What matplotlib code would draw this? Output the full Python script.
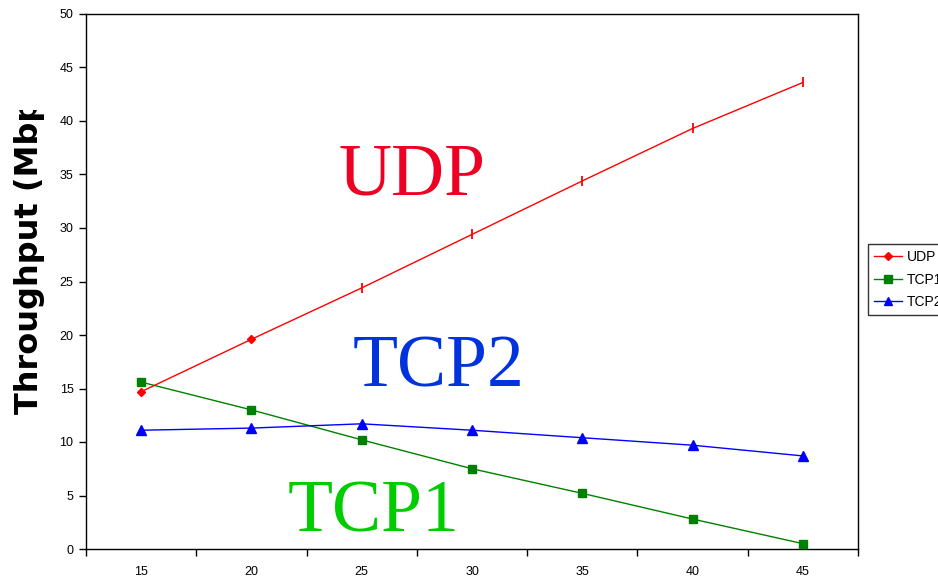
import matplotlib
matplotlib.use("Agg")
import matplotlib.pyplot as plt
from matplotlib.transforms import Bbox

# Offered load (category axis) and measured throughput per flow
loads = ["15", "20", "25", "30", "35", "40", "45"]
udp = [14.7, 19.6, 24.4, 29.4, 34.4, 39.3, 43.6]
tcp1 = [15.6, 13.0, 10.2, 7.5, 5.2, 2.8, 0.5]
tcp2 = [11.1, 11.3, 11.7, 11.1, 10.4, 9.7, 8.7]
y_ticks = [0, 5, 10, 15, 20, 25, 30, 35, 40, 45, 50]

W, H = 938, 578
fig = plt.figure(figsize=(W / 100, H / 100), dpi=100)
plt.rcParams["font.family"] = ["Liberation Sans", "DejaVu Sans"]

left, right, top, bottom = 86, 858, 14, 549
ax = fig.add_axes([left / W, 1 - bottom / H, (right - left) / W, (bottom - top) / H])

x = list(range(len(loads)))

# UDP: diamonds on the first two points, short vertical bars on the rest
ax.plot(x, udp, color="#ff0000", lw=1.0, zorder=3)
ax.plot(x[:2], udp[:2], ls="none", marker="D", ms=4.5, color="#ff0000", zorder=4)
ax.plot(x[2:], udp[2:], ls="none", marker="|", ms=7, mew=1.3, color="#ff0000", zorder=4)
ax.plot(x, tcp1, color="#008000", lw=1.0, marker="s", ms=6, zorder=3)
ax.plot(x, tcp2, color="#0000ff", lw=1.0, marker="^", ms=6.5, zorder=3)

ax.set_xlim(-0.5, len(loads) - 0.5)
ax.set_ylim(0, 50)
ax.set_yticks(y_ticks)
ax.set_yticklabels([str(v) for v in y_ticks], fontsize=9)
ax.set_xticks(x)
ax.set_xticklabels(loads, fontsize=9)
ax.set_xticks([i - 0.5 for i in range(len(loads) + 1)], minor=True)
ax.tick_params(axis="x", which="major", length=0, pad=12)
ax.tick_params(axis="x", which="minor", length=5, width=1, color="black")
ax.tick_params(axis="y", length=5, width=1, pad=4)
for s in ax.spines.values():
    s.set_color("black")
    s.set_linewidth(1.0)

# Big in-plot flow labels
big = dict(fontsize=53, family="Liberation Serif", va="baseline", ha="left")
ax.text(1.785, 33.1, "UDP", color="#ee0022", **big)
ax.text(1.92, 15.2, "TCP2", color="#0033dd", **big)
ax.text(1.33, 1.6, "TCP1", color="#00cc00", **big)

# Y-axis title, cut off at its upper end
ylab = fig.text(30 / W, 1 - 414 / H, "Throughput (Mbps)", rotation=90, fontsize=23,
                family="DejaVu Sans", fontweight="bold", ha="center", va="bottom")
ylab.set_clip_box(Bbox.from_extents(0, 0, 60, H - 110))
ylab.set_clip_on(True)

# Legend box
handles = [
    plt.Line2D([], [], color="#ff0000", lw=1.0, marker="D", ms=4.5),
    plt.Line2D([], [], color="#008000", lw=1.0, marker="s", ms=5.5),
    plt.Line2D([], [], color="#0000ff", lw=1.0, marker="^", ms=6),
]
leg = fig.legend(handles, ["UDP", "TCP1", "TCP2"], loc="upper left",
                 bbox_to_anchor=(868 / W, 1 - 244 / H), fontsize=10,
                 frameon=True, fancybox=False, edgecolor="black",
                 handlelength=2.0, handletextpad=0.35, borderpad=0.45,
                 labelspacing=0.6, borderaxespad=0)
leg.get_frame().set_linewidth(1.0)

fig.savefig("out.png", dpi=100)
